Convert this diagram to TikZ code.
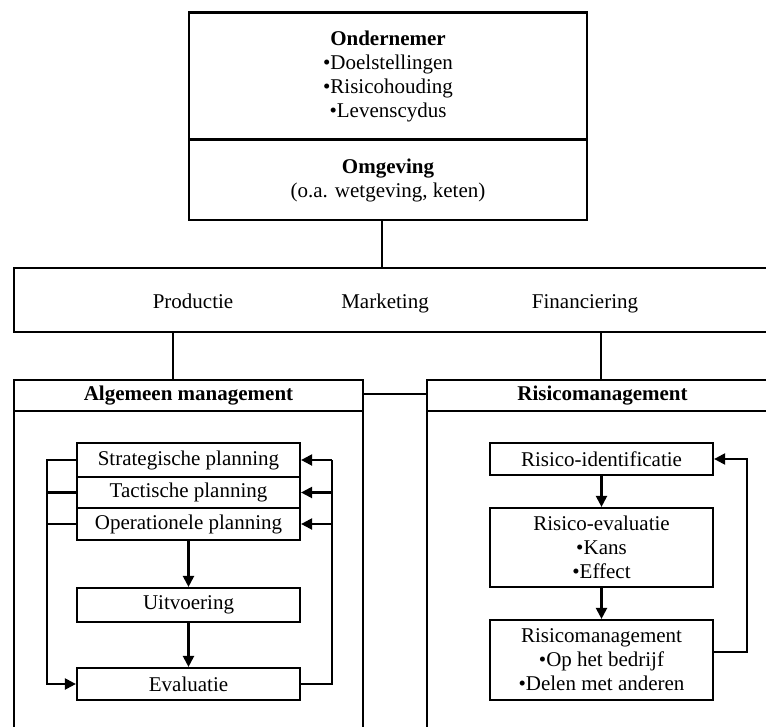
\documentclass[tikz,border=0pt]{standalone}
\usepackage{fontspec}
\setmainfont{Liberation Serif}
\usetikzlibrary{arrows.meta}
\begin{document}
\begin{tikzpicture}[x=1pt,y=-1pt,
  box/.style={draw, line width=2.2pt, inner sep=0pt, align=center, font=\fontsize{21}{24}\selectfont},
  big/.style={box, line width=2.6pt},
  lbl/.style={inner sep=0pt, anchor=base, font=\fontsize{21}{24}\selectfont},
  conn/.style={line width=2.2pt},
  arr/.style={line width=2.2pt, -{Triangle[length=11pt,width=11pt]}},
]
\useasboundingbox (0,0) rectangle (766,727);
\clip (0,0) rectangle (766,727);

% top box
\node[big, minimum width=398pt, minimum height=127pt] (ond) at (388,76)
  {\textbf{Ondernemer}\\•Doelstellingen\\•Risicohouding\\•Levenscydus};
\node[big, minimum width=398pt, minimum height=80pt] (omg) at (388,180)
  {\textbf{Omgeving}\\(o.a. wetgeving, keten)};

% bar
\node[big, minimum width=776pt, minimum height=64pt] (bar) at (402,300) {};
\node[lbl] (prod) at (193,309) {Productie};
\node[lbl] (mark) at (385,309) {Marketing};
\node[lbl] (fin) at (585,309) {Financiering};

% panels
\node[big, minimum width=349pt, minimum height=31pt] (alghead) at (188.5,395.5) {\textbf{Algemeen management}};
\node[big, minimum width=349pt, minimum height=360pt] (algbody) at (188.5,591) {};
\node[big, minimum width=351pt, minimum height=31pt] (riskhead) at (602.5,395.5) {\textbf{Risicomanagement}};
\node[big, minimum width=351pt, minimum height=360pt] (riskbody) at (602.5,591) {};

% connectors between big blocks
\draw[conn] ([xshift=-6pt]omg.south) -- ([xshift=-6pt]omg.south |- bar.north);
\coordinate (cl) at (173,0);
\coordinate (cr) at (601,0);
\coordinate (cm) at (0,394);
\draw[conn] (bar.south -| cl) -- (alghead.north -| cl);
\draw[conn] (bar.south -| cr) -- (riskhead.north -| cr);
\draw[conn] (alghead.east |- cm) -- (riskhead.west |- cm);

% left inner
\node[box, minimum width=223pt, minimum height=34pt] (strat) at (188.5,460) {Strategische planning};
\node[box, minimum width=223pt, minimum height=31pt] (tact) at (188.5,492.5) {Tactische planning};
\node[box, minimum width=223pt, minimum height=32pt] (oper) at (188.5,524) {Operationele planning};
\node[box, minimum width=223pt, minimum height=34pt] (uitv) at (188.5,605) {Uitvoering};
\node[box, minimum width=223pt, minimum height=32pt] (evl) at (188.5,684) {Evaluatie};

\draw[arr] (oper) -- (uitv);
\draw[arr] (uitv) -- (evl);
\coordinate (fl) at (47,0);
\coordinate (fr) at (332,0);
\draw[conn] (tact.west) -- (tact.west -| fl);
\draw[conn] (oper.west) -- (oper.west -| fl);
\draw[arr] (strat.west) -- (strat.west -| fl) -- (evl.west -| fl) -- (evl.west);
\draw[conn] (evl.east) -- (evl.east -| fr) -- (strat.east -| fr);
\draw[arr] (strat.east -| fr) -- (strat.east);
\draw[arr] (tact.east -| fr) -- (tact.east);
\draw[arr] (oper.east -| fr) -- (oper.east);

% right inner
\node[box, minimum width=223pt, minimum height=32pt] (ident) at (601.5,459) {Risico-identificatie};
\node[box, minimum width=223pt, minimum height=79pt] (revl) at (601.5,547.5) {Risico-evaluatie\\•Kans\\•Effect};
\node[box, minimum width=223pt, minimum height=80pt] (rman) at (601.5,660) {Risicomanagement\\•Op het bedrijf\\•Delen met anderen};

\draw[arr] (ident) -- (revl);
\draw[arr] (revl) -- (rman);
\coordinate (fb) at (747,652);
\draw[arr] (rman.east |- fb) -- (fb) -- (ident.east -| fb) -- (ident.east);
\end{tikzpicture}
\end{document}
